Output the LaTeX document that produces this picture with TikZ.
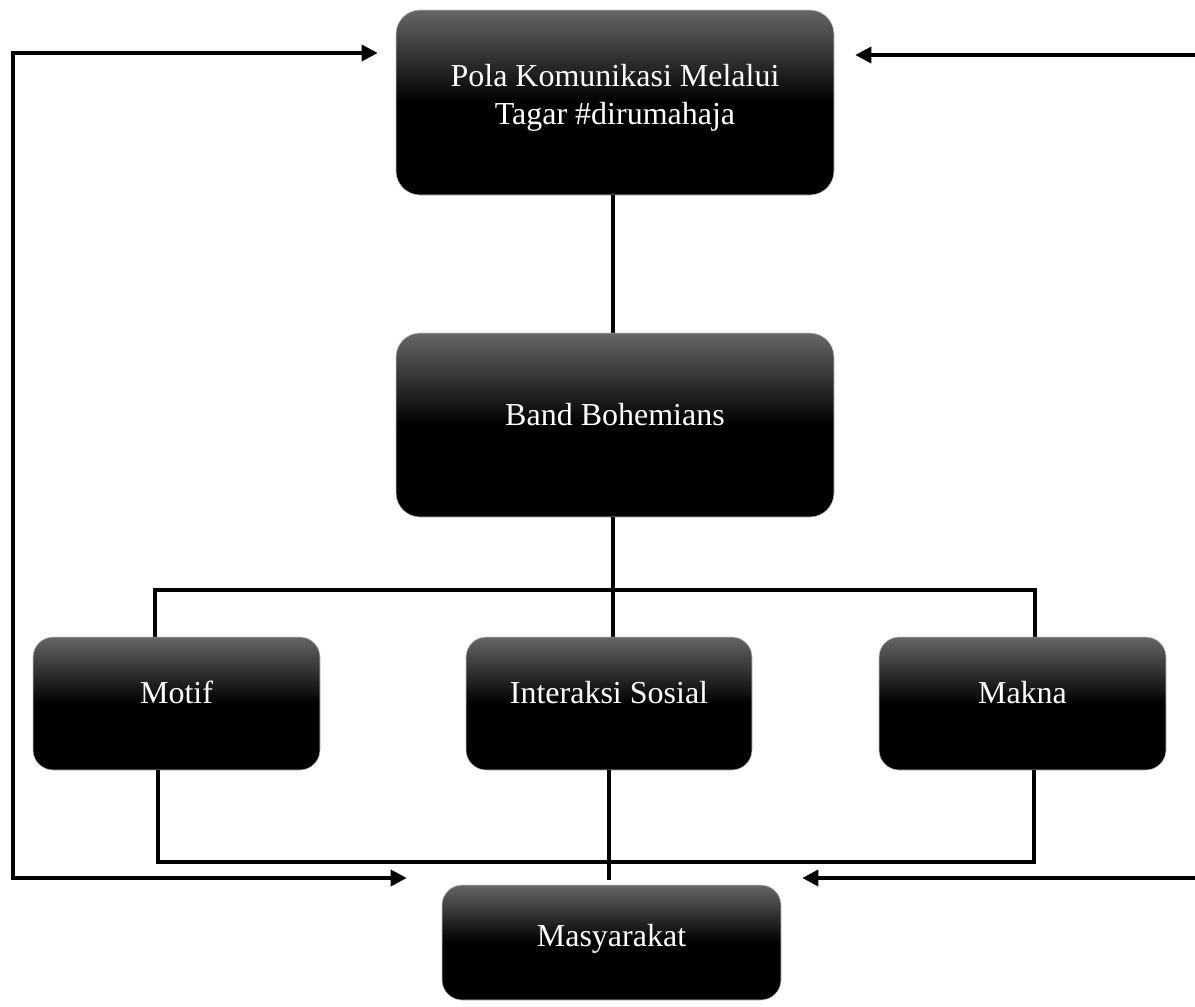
\documentclass[tikz,border=0pt]{standalone}
\usepackage{fontspec}
\setmainfont{Liberation Serif}
\usetikzlibrary{arrows.meta,calc}
\definecolor{boxtop}{gray}{0.40}
\newcommand{\liftedtext}[2]{\raisebox{#1}[\height][\depth]{\begin{tabular}{@{}c@{}}#2\end{tabular}}}
\tikzset{
  box/.style={rectangle, rounded corners=24pt, top color=boxtop, bottom color=black, middle color=black,
    draw=gray!45, line width=0.6pt, text=white, font=\fontsize{32}{38}\selectfont, inner sep=0pt},
  smallbox/.style={box, rounded corners=20pt},
  conn/.style={line width=3.6pt},
  arr/.style={line width=3.6pt, -{Triangle[length=16pt,width=16pt]}},
  darr/.style={line width=3.6pt, {Triangle[length=16pt,width=16pt]}-{Triangle[length=16pt,width=16pt]}}
}
\begin{document}
\begin{tikzpicture}[x=1pt,y=-1pt]
\useasboundingbox (0,0) rectangle (1195,1007);
\node[box, minimum width=438pt, minimum height=185pt] (top) at (615,102.5)
  {\liftedtext{5pt}{Pola Komunikasi Melalui\\Tagar \#dirumahaja}};
\node[box, minimum width=438pt, minimum height=184pt] (band) at (615,425)
  {\liftedtext{7pt}{Band Bohemians}};
\node[smallbox, minimum width=287pt, minimum height=133pt] (motif) at (176.5,703.5)
  {\liftedtext{8pt}{Motif}};
\node[smallbox, minimum width=286pt, minimum height=133pt] (inter) at (609,703.5)
  {\liftedtext{8pt}{Interaksi Sosial}};
\node[smallbox, minimum width=287pt, minimum height=133pt] (makna) at (1022.5,703.5)
  {\liftedtext{8pt}{Makna}};
\node[smallbox, minimum width=339pt, minimum height=115pt] (masy) at (611.5,942.5)
  {\liftedtext{4pt}{Masyarakat}};

\coordinate (barL) at (155,590);
\coordinate (barR) at (1035,590);
\coordinate (botL) at (158,862);
\coordinate (botR) at (1034,862);
\coordinate (L1) at (13,53);
\coordinate (L2) at (13,878);
\coordinate (R1) at (1197,55);
\coordinate (R2) at (1197,878);

\draw[conn] ($(top.south)+(-2,0)$) -- ($(band.north)+(-2,0)$);
\draw[conn] ($(band.south)+(-2,0)$) -- ($(band.south |- inter.north)+(-2,0)$);
\draw[conn] (barL |- motif.north) -- (barL) -- (barR) -- (barR |- makna.north);
\draw[conn] (botL |- motif.south) -- (botL) -- (botR) -- (botR |- makna.south);
\draw[conn] (inter.south) -- ($(inter.south |- masy.north)+(0,-5)$);

\draw[darr] ($(top.west |- L1)+(-18,0)$) -- (L1) -- (L2) -- ($(masy.west |- L2)+(-35,0)$);
\draw[arr] (R1) -- ($(top.east |- R1)+(21,0)$);
\draw[arr] (R2) -- ($(masy.east |- R2)+(21,0)$);
\end{tikzpicture}
\end{document}
